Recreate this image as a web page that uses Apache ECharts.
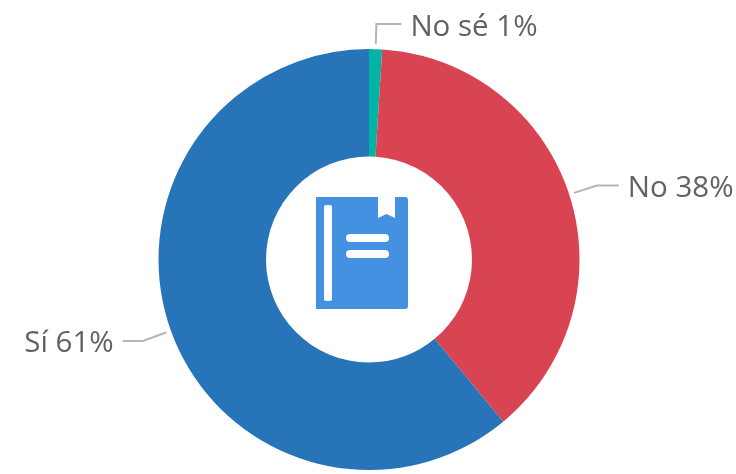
<!DOCTYPE html>
<html>
<head>
<meta charset="utf-8">
<style>
html, body { margin: 0; padding: 0; background: #fff; }
#main { width: 736px; height: 474px; }
</style>
<script src="https://cdn.jsdelivr.net/npm/echarts@6/dist/echarts.min.js"></script>
</head>
<body>
<div id="main"></div>
<script>
var categories = ['No sé', 'No', 'Sí'];
var values = [1, 38, 61];
var colors = ['#00b5a5', '#d94452', '#2774b9'];
var lineLengths = [25, 29, 30];
var lineLengths2 = [25, 22, 20];

var chart = echarts.init(document.getElementById('main'));
var bookColor = '#4591e1';
var lineGap = 5; // hueco entre el borde y la linea

var seriesData = categories.map(function (name, i) {
  return {
    name: name,
    value: values[i],
    itemStyle: { color: colors[i] },
    labelLine: { length: lineLengths[i], length2: lineLengths2[i] }
  };
});

var option = {
  backgroundColor: '#ffffff',
  animation: false,
  series: [{
    type: 'pie',
    center: [369, 259.5],
    radius: [103, 210.5],
    startAngle: 90,
    clockwise: true,
    avoidLabelOverlap: false,
    data: seriesData,
    label: {
      formatter: function (p) { return p.name + ' ' + p.value + '%'; },
      color: '#626262',
      fontSize: 29.5,
      fontFamily: '"Open Sans", "Noto Sans", sans-serif',
      distanceToLabelLine: 9
    },
    labelLine: {
      lineStyle: { color: '#b5b5b5', width: 2 }
    },
    labelLayout: function (params) {
      var pts = params.labelLinePoints;
      if (!pts) return {};
      var dx = pts[1][0] - pts[0][0];
      var dy = pts[1][1] - pts[0][1];
      var len = Math.sqrt(dx * dx + dy * dy) || 1;
      return {
        dy: 3,
        labelLinePoints: [
          [pts[0][0] + dx / len * lineGap, pts[0][1] + dy / len * lineGap],
          pts[1],
          pts[2]
        ]
      };
    }
  }],
  // icono del libro en el centro
  graphic: [
    { type: 'rect', shape: { x: 316, y: 197, width: 92, height: 112, r: [0, 3, 3, 0] }, style: { fill: bookColor } },
    { type: 'rect', shape: { x: 324, y: 205, width: 8, height: 96, r: 2 }, style: { fill: '#fff' } },
    { type: 'polygon', shape: { points: [[378, 197], [395, 197], [395, 218], [386.5, 214], [378, 218]] }, style: { fill: '#fff' } },
    { type: 'rect', shape: { x: 346, y: 234, width: 43, height: 8, r: 4 }, style: { fill: '#fff' } },
    { type: 'rect', shape: { x: 346, y: 250, width: 43, height: 8, r: 4 }, style: { fill: '#fff' } }
  ]
};
chart.setOption(option);
</script>
</body>
</html>
